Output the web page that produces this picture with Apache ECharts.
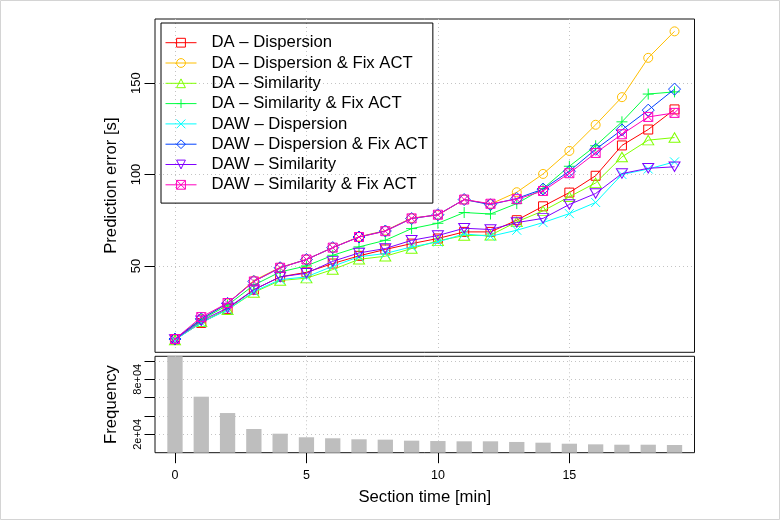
<!DOCTYPE html>
<html>
<head>
<meta charset="utf-8">
<script src="https://cdn.jsdelivr.net/npm/echarts@6/dist/echarts.min.js"></script>
<style>
  html, body { margin: 0; padding: 0; background: #fff; }
  #chart { width: 781px; height: 521px; }
</style>
</head>
<body>
<div id="chart"></div>
<script>
// Section time (minutes) shared by both panels
const sectionTime = [0, 1, 2, 3, 4, 5, 6, 7, 8, 9, 10, 11, 12, 13, 14, 15, 16, 17, 18, 19];

// Prediction error [s] per method
const daDispersion        = [9.8, 18.8, 26.5, 37.0, 44.0, 46.5, 51.3, 55.5, 59.0, 62.2, 65.0, 68.6, 68.6, 75.0, 82.6, 90.1, 99.3, 115.9, 124.6, 135.6];
const daDispersionFix     = [10.0, 21.0, 29.5, 42.0, 49.2, 53.5, 60.0, 66.0, 69.3, 76.2, 77.8, 86.3, 83.8, 90.3, 100.3, 112.9, 127.2, 142.3, 163.8, 178.3];
const daSimilarity        = [9.5, 19.5, 26.0, 35.5, 42.0, 43.3, 48.0, 53.6, 55.3, 59.5, 63.7, 66.6, 66.8, 74.1, 80.1, 87.8, 95.4, 109.6, 118.8, 120.2];
const daSimilarityFix     = [10.0, 20.5, 28.5, 39.5, 46.7, 50.0, 55.8, 60.4, 64.0, 70.4, 73.3, 79.2, 78.4, 84.1, 92.3, 104.5, 115.7, 128.8, 144.0, 145.2];
const dawDispersion       = [9.5, 19.0, 26.0, 36.0, 42.5, 44.0, 49.8, 55.0, 56.8, 60.4, 63.1, 67.5, 66.2, 69.5, 73.7, 78.6, 84.7, 100.0, 103.0, 106.9];
const dawDispersionFix    = [10.0, 21.0, 29.5, 41.5, 49.0, 53.5, 60.0, 65.8, 69.1, 75.9, 78.0, 86.3, 83.5, 86.9, 92.0, 101.8, 113.8, 124.4, 135.2, 146.7];
const dawSimilarity       = [9.8, 20.0, 27.0, 37.0, 44.0, 46.0, 52.5, 57.1, 59.5, 64.0, 66.6, 70.6, 69.9, 73.7, 76.0, 83.6, 89.6, 100.5, 103.4, 104.2];
const dawSimilarityFix    = [10.0, 22.0, 29.7, 41.5, 49.0, 53.5, 60.0, 65.8, 69.0, 76.0, 78.0, 86.3, 84.0, 86.5, 91.0, 100.7, 111.8, 122.0, 131.5, 133.7];

// Number of sections per section time
const frequency = [105000, 61000, 43200, 25800, 20700, 16800, 15700, 14600, 14200, 13100, 12700, 12400, 12400, 11700, 10900, 9800, 9100, 8700, 8700, 8400];

const methodNames = [
  'DA \u2013 Dispersion',
  'DA \u2013 Dispersion & Fix ACT',
  'DA \u2013 Similarity',
  'DA \u2013 Similarity & Fix ACT',
  'DAW \u2013 Dispersion',
  'DAW \u2013 Dispersion & Fix ACT',
  'DAW \u2013 Similarity',
  'DAW \u2013 Similarity & Fix ACT'
];
const methodValues = [daDispersion, daDispersionFix, daSimilarity, daSimilarityFix,
                      dawDispersion, dawDispersionFix, dawSimilarity, dawSimilarityFix];

// Tick positions
const xTicks = [0, 5, 10, 15];
const errorTicks = [50, 100, 150];
const freqTicks = [20000, 40000, 60000, 80000, 100000];
const freqLabelTicks = [20000, 80000];

// Styling: rainbow palette and open plotting symbols
const palette = ['#FF0000', '#FFBF00', '#80FF00', '#00FF40', '#00FFFF', '#0040FF', '#8000FF', '#FF00BF'];
const markers = [
  { symbol: 'path://M0,0 L10,0 L10,10 L0,10 Z', size: 9 },
  { symbol: 'circle', size: 9 },
  { symbol: 'path://M5,0 L10,8.66 L0,8.66 Z', size: [11, 9.5] },
  { symbol: 'path://M5,0 L5,10 M0,5 L10,5', size: 11 },
  { symbol: 'path://M0,0 L10,10 M10,0 L0,10', size: 9 },
  { symbol: 'path://M5,0 L10,5 L5,10 L0,5 Z', size: 12 },
  { symbol: 'path://M0,0 L10,0 L5,8.66 Z', size: [11, 9.5] },
  { symbol: 'path://M0,0 L10,0 L10,10 L0,10 Z M0,0 L10,10 M10,0 L0,10', size: 9 }
];

const FONT = '"Liberation Sans", Arial, Helvetica, sans-serif';

// R-style axis extents (4% padding on each side)
function paddedRange(values) {
  const lo = Math.min.apply(null, values);
  const hi = Math.max.apply(null, values);
  const pad = (hi - lo) * 0.04;
  return [lo - pad, hi + pad];
}
const xRange = paddedRange(sectionTime);
const errRange = paddedRange([].concat.apply([], methodValues));
const freqMax = Math.max.apply(null, frequency);

const dotted = { color: '#c4c4c4', width: 1, type: [1, 3] };
const tickStyle = { color: '#000', width: 1 };

const lineSeries = methodNames.map((name, k) => ({
  type: 'line',
  name: name,
  xAxisIndex: 0,
  yAxisIndex: 0,
  data: sectionTime.map((t, i) => [t, methodValues[k][i]]),
  symbol: markers[k].symbol,
  symbolSize: markers[k].size,
  showAllSymbol: true,
  itemStyle: { color: 'none', borderColor: palette[k], borderWidth: 1 },
  lineStyle: { color: palette[k], width: 1 },
  emphasis: { disabled: true },
  z: 2 + k
}));

const barSeries = {
  type: 'bar',
  name: 'Frequency',
  xAxisIndex: 1,
  yAxisIndex: 1,
  data: sectionTime.map((t, i) => [t, frequency[i]]),
  barWidth: 15.3,
  itemStyle: { color: '#bebebe' },
  emphasis: { disabled: true }
};

const chart = echarts.init(document.getElementById('chart'), null, { renderer: 'canvas' });
chart.setOption({
  animation: false,
  backgroundColor: '#fff',
  textStyle: { fontFamily: FONT },
  graphic: [{
    type: 'rect',
    shape: { x: 0.5, y: 0.5, width: 779, height: 519 },
    style: { fill: 'none', stroke: '#d4d4d4', lineWidth: 1 },
    silent: true
  }],
  legend: {
    data: methodNames,
    orient: 'vertical',
    left: 161,
    top: 23,
    itemWidth: 31,
    itemHeight: 11,
    itemGap: 3.3,
    padding: [11.2, 5, 9.8, 4],
    borderColor: '#000',
    borderWidth: 1,
    lineStyle: { width: 1 },
    itemStyle: { borderWidth: 1 },
    textStyle: { fontSize: 16.7, color: '#000', fontFamily: FONT, padding: [0, 0, 0, 10] },
    selectedMode: false
  },
  grid: [
    { left: 155, top: 19, width: 539.5, height: 333.3, show: true, borderColor: '#111', borderWidth: 1, backgroundColor: 'transparent' },
    { left: 155, top: 356.3, width: 539.5, height: 96.4, show: true, borderColor: '#111', borderWidth: 1, backgroundColor: 'transparent' }
  ],
  xAxis: [
    {
      gridIndex: 0, type: 'value', min: xRange[0], max: xRange[1],
      axisLine: { show: false, onZero: false },
      axisTick: { show: false, customValues: xTicks },
      axisLabel: { show: false, customValues: xTicks },
      splitLine: { show: true, lineStyle: dotted }
    },
    {
      gridIndex: 1, type: 'value', min: xRange[0], max: xRange[1],
      axisLine: { show: false, onZero: false },
      axisTick: { show: true, length: 10.5, lineStyle: tickStyle, customValues: xTicks },
      axisLabel: { customValues: xTicks, margin: 16, fontSize: 12.5, color: '#000', fontFamily: FONT },
      splitLine: { show: true, lineStyle: dotted },
      name: 'Section time [min]',
      nameLocation: 'middle',
      nameGap: 36,
      nameTextStyle: { fontSize: 16.7, color: '#000', fontFamily: FONT }
    }
  ],
  yAxis: [
    {
      gridIndex: 0, type: 'value', min: errRange[0], max: errRange[1],
      axisLine: { show: false, onZero: false },
      axisTick: { show: true, length: 10.5, lineStyle: tickStyle, customValues: errorTicks },
      axisLabel: { customValues: errorTicks, rotate: 90, margin: 12, fontSize: 13, color: '#000', fontFamily: FONT },
      splitLine: { show: true, lineStyle: dotted },
      name: 'Prediction error [s]',
      nameLocation: 'middle',
      nameRotate: 90,
      nameGap: 35,
      nameTextStyle: { fontSize: 16.7, color: '#000', fontFamily: FONT }
    },
    {
      gridIndex: 1, type: 'value', min: 0, max: freqMax,
      axisLine: { show: false, onZero: false },
      axisTick: { show: true, length: 10.5, lineStyle: tickStyle, customValues: freqTicks },
      axisLabel: {
        customValues: freqLabelTicks, rotate: 90, margin: 12, fontSize: 11, color: '#000', fontFamily: FONT,
        formatter: v => (v / 10000) + 'e+04'
      },
      splitLine: { show: true, lineStyle: dotted },
      name: 'Frequency',
      nameLocation: 'middle',
      nameRotate: 90,
      nameGap: 35,
      nameTextStyle: { fontSize: 16.7, color: '#000', fontFamily: FONT }
    }
  ],
  series: lineSeries.concat([barSeries])
});
</script>
</body>
</html>
